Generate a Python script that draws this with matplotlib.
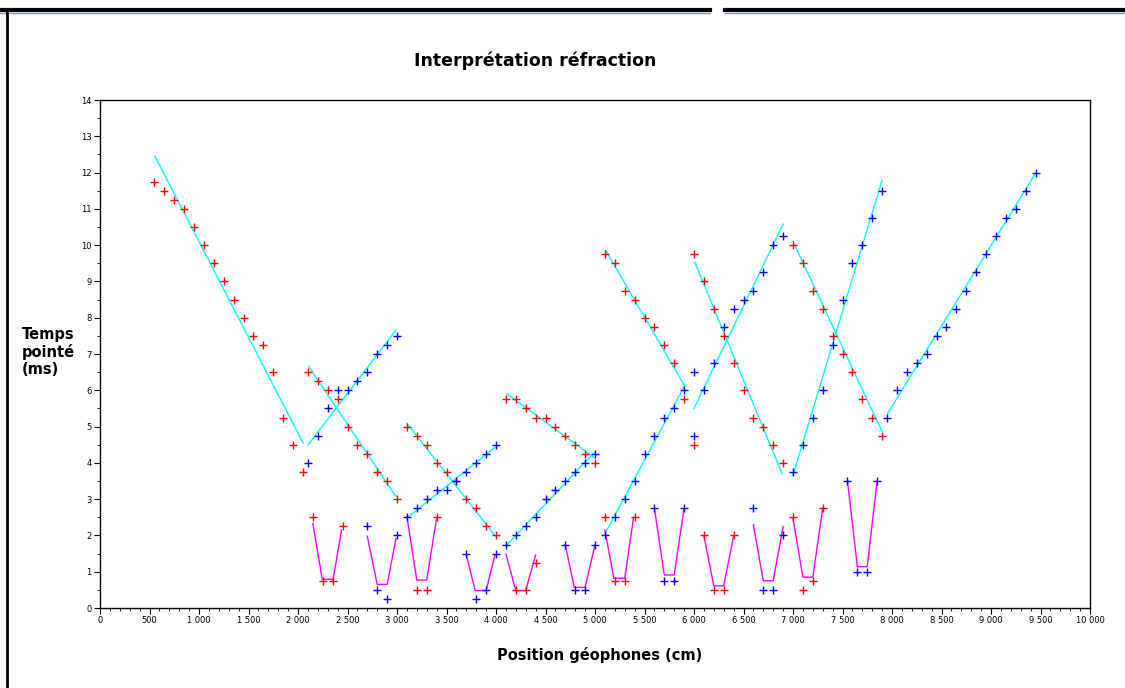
import matplotlib
matplotlib.use("Agg")
import matplotlib.pyplot as plt
from matplotlib.lines import Line2D
from matplotlib.ticker import MultipleLocator, FuncFormatter

# ---------------- data ----------------
red1_x = [550, 650, 750, 850, 950, 1050, 1150, 1250, 1350, 1450, 1550, 1650, 1750, 1850, 1950, 2050]
red1_y = [11.75, 11.5, 11.25, 11.0, 10.5, 10.0, 9.5, 9.0, 8.5, 8.0, 7.5, 7.25, 6.5, 5.25, 4.5, 3.75]

red2_x = [2100, 2200, 2300, 2400, 2500, 2600, 2700, 2800, 2900, 3000]
red2_y = [6.5, 6.25, 6.0, 5.75, 5.0, 4.5, 4.25, 3.75, 3.5, 3.0]
blue2_x = [2100, 2200, 2300, 2400, 2500, 2600, 2700, 2800, 2900, 3000]
blue2_y = [4.0, 4.75, 5.5, 6.0, 6.0, 6.25, 6.5, 7.0, 7.25, 7.5]

red3_x = [3100, 3200, 3300, 3400, 3500, 3600, 3700, 3800, 3900, 4000]
red3_y = [5.0, 4.75, 4.5, 4.0, 3.75, 3.5, 3.0, 2.75, 2.25, 2.0]
blue3_x = [3100, 3200, 3300, 3400, 3500, 3600, 3700, 3800, 3900, 4000]
blue3_y = [2.5, 2.75, 3.0, 3.25, 3.25, 3.5, 3.75, 4.0, 4.25, 4.5]

red4_x = [4100, 4200, 4300, 4400, 4500, 4600, 4700, 4800, 4900, 5000]
red4_y = [5.75, 5.75, 5.5, 5.25, 5.25, 5.0, 4.75, 4.5, 4.25, 4.0]
blue4_x = [4100, 4200, 4300, 4400, 4500, 4600, 4700, 4800, 4900, 5000]
blue4_y = [1.75, 2.0, 2.25, 2.5, 3.0, 3.25, 3.5, 3.75, 4.0, 4.25]

red5_x = [5100, 5200, 5300, 5400, 5500, 5600, 5700, 5800, 5900]
red5_y = [9.75, 9.5, 8.75, 8.5, 8.0, 7.75, 7.25, 6.75, 5.75]
blue5_x = [5100, 5200, 5300, 5400, 5500, 5600, 5700, 5800, 5900]
blue5_y = [2.0, 2.5, 3.0, 3.5, 4.25, 4.75, 5.25, 5.5, 6.0]

red6_x = [6000, 6100, 6200, 6300, 6400, 6500, 6600, 6700, 6800, 6900]
red6_y = [9.75, 9.0, 8.25, 7.5, 6.75, 6.0, 5.25, 5.0, 4.5, 4.0]
blue6_x = [6100, 6200, 6300, 6400, 6500, 6600, 6700, 6800, 6900]
blue6_y = [6.0, 6.75, 7.75, 8.25, 8.5, 8.75, 9.25, 10.0, 10.25]

red7_x = [7000, 7100, 7200, 7300, 7400, 7500, 7600, 7700, 7800, 7900]
red7_y = [10.0, 9.5, 8.75, 8.25, 7.5, 7.0, 6.5, 5.75, 5.25, 4.75]
blue7_x = [7000, 7100, 7200, 7300, 7400, 7500, 7600, 7700, 7800, 7900]
blue7_y = [3.75, 4.5, 5.25, 6.0, 7.25, 8.5, 9.5, 10.0, 10.75, 11.5]

blue8_x = [7950, 8050, 8150, 8250, 8350, 8450, 8550, 8650, 8750, 8850, 8950, 9050, 9150, 9250, 9350, 9450]
blue8_y = [5.25, 6.0, 6.5, 6.75, 7.0, 7.5, 7.75, 8.25, 8.75, 9.25, 9.75, 10.25, 10.75, 11.0, 11.5, 12.0]

red_extra_x = [6000]
red_extra_y = [4.5]
blue_extra_x = [6000, 6000]
blue_extra_y = [6.5, 4.75]

# near-surface (bottom) picks
red_v_x = [2150, 2250, 2350, 2450, 3200, 3300, 3400, 4200, 4300, 4400,
           5100, 5200, 5300, 5400, 6100, 6200, 6300, 6400, 7000, 7100, 7200, 7300]
red_v_y = [2.5, 0.75, 0.75, 2.25, 0.5, 0.5, 2.5, 0.5, 0.5, 1.25,
           2.5, 0.75, 0.75, 2.5, 2.0, 0.5, 0.5, 2.0, 2.5, 0.5, 0.75, 2.75]
blue_v_x = [2700, 2800, 2900, 3000, 3700, 3800, 3900, 4000, 4700, 4800, 4900, 5000,
            5600, 5700, 5800, 5900, 6600, 6700, 6800, 6900, 7550, 7650, 7750, 7850]
blue_v_y = [2.25, 0.5, 0.25, 2.0, 1.5, 0.25, 0.5, 1.5, 1.75, 0.5, 0.5, 1.75,
            2.75, 0.75, 0.75, 2.75, 2.75, 0.5, 0.5, 2.0, 3.5, 1.0, 1.0, 3.5]

# fitted refraction lines (cyan): start x, start t, end x, end t
fit_x0 = [555, 2100, 2110, 3100, 3100, 4110, 4110, 5110, 5110, 6010, 6000, 7000, 7000, 7955]
fit_t0 = [12.45, 4.49, 6.65, 5.09, 2.48, 5.90, 1.74, 9.85, 2.10, 9.52, 5.50, 10.10, 3.66, 5.36]
fit_x1 = [2053, 2990, 2990, 4000, 4000, 4990, 5000, 5905, 5905, 6890, 6900, 7900, 7900, 9450]
fit_t1 = [4.54, 7.66, 3.07, 1.96, 4.45, 4.15, 4.31, 6.12, 6.12, 3.70, 10.58, 4.86, 11.79, 11.98]

# near-surface V interpretations (magenta): 4 vertices each
v_xa = [2150, 2700, 3100, 3700, 4100, 4700, 5100, 5600, 6100, 6600, 7000, 7550]
v_ta = [2.33, 1.98, 2.52, 1.46, 1.49, 1.74, 2.15, 2.75, 1.98, 2.29, 2.47, 3.51]
v_xb = [2245, 2800, 3200, 3790, 4200, 4790, 5190, 5700, 6200, 6700, 7100, 7650]
v_xc = [2355, 2900, 3300, 3900, 4300, 4900, 5300, 5800, 6300, 6800, 7200, 7750]
v_tb = [0.79, 0.65, 0.77, 0.48, 0.48, 0.57, 0.82, 0.91, 0.61, 0.75, 0.85, 1.14]
v_xd = [2440, 2990, 3400, 3990, 4400, 5000, 5390, 5900, 6400, 6900, 7300, 7850]
v_td = [2.15, 1.92, 2.47, 1.46, 1.46, 1.74, 2.50, 2.75, 1.98, 2.24, 2.75, 3.51]

xticks = list(range(0, 10001, 500))
yticks = list(range(0, 15))

# ---------------- figure ----------------
fig = plt.figure(figsize=(11.25, 6.88), dpi=100)
ax = fig.add_axes([100 / 1125, 1 - 608 / 688, 990 / 1125, 508 / 688])

RED = "#ff0000"
BLUE = "#0000ff"
CYAN = "#00ffff"
MAG = "#ff00ff"

for xa, ta, xb, xc, tb, xd, td in zip(v_xa, v_ta, v_xb, v_xc, v_tb, v_xd, v_td):
    ax.plot([xa, xb, xc, xd], [ta, tb, tb, td], color=MAG, lw=1.0, zorder=2)

for x0, t0, x1, t1 in zip(fit_x0, fit_t0, fit_x1, fit_t1):
    ax.plot([x0, x1], [t0, t1], color=CYAN, lw=1.0, zorder=2)

mk = dict(marker="+", linestyle="none", markersize=5.5, markeredgewidth=1.0, zorder=3)
for xs, ys in [(red1_x, red1_y), (red2_x, red2_y), (red3_x, red3_y), (red4_x, red4_y),
               (red5_x, red5_y), (red6_x, red6_y), (red7_x, red7_y),
               (red_extra_x, red_extra_y), (red_v_x, red_v_y)]:
    ax.plot(xs, ys, color=RED, **mk)
for xs, ys in [(blue2_x, blue2_y), (blue3_x, blue3_y), (blue4_x, blue4_y),
               (blue5_x, blue5_y), (blue6_x, blue6_y), (blue7_x, blue7_y),
               (blue8_x, blue8_y), (blue_extra_x, blue_extra_y), (blue_v_x, blue_v_y)]:
    ax.plot(xs, ys, color=BLUE, **mk)

ax.set_xlim(0, 10000)
ax.set_ylim(0, 14)
ax.set_xticks(xticks)
ax.set_yticks(yticks)
ax.xaxis.set_minor_locator(MultipleLocator(100))
ax.yaxis.set_minor_locator(MultipleLocator(0.5))
ax.xaxis.set_major_formatter(FuncFormatter(lambda v, p: f"{int(v):,}".replace(",", " ")))
ax.tick_params(axis="both", which="major", length=4, width=0.8, labelsize=6, direction="out", pad=2)
ax.tick_params(axis="both", which="minor", length=2, width=0.6, direction="out")
for s in ax.spines.values():
    s.set_linewidth(1.0)
    s.set_color("black")

fig.text(535 / 1125, 1 - 61 / 688, "Interprétation réfraction", ha="center", va="center",
         fontsize=12.5, fontweight="bold")
fig.text(600 / 1125, 1 - 655 / 688, "Position géophones (cm)", ha="center", va="center",
         fontsize=10.5, fontweight="bold")
fig.text(22 / 1125, 1 - 352 / 688, "Temps\npointé\n(ms)", ha="left", va="center",
         fontsize=10.5, fontweight="bold", linespacing=1.2)

# window frame
fig.add_artist(Line2D([0, 710 / 1125], [1 - 10 / 688, 1 - 10 / 688], color="black", lw=3,
                      transform=fig.transFigure))
fig.add_artist(Line2D([725 / 1125, 1], [1 - 10 / 688, 1 - 10 / 688], color="black", lw=3,
                      transform=fig.transFigure))
fig.add_artist(Line2D([0, 710 / 1125], [1 - 13 / 688, 1 - 13 / 688], color="#7f93b0", lw=1,
                      transform=fig.transFigure))
fig.add_artist(Line2D([725 / 1125, 1], [1 - 13 / 688, 1 - 13 / 688], color="#7f93b0", lw=1,
                      transform=fig.transFigure))
fig.add_artist(Line2D([7 / 1125, 7 / 1125], [0, 1 - 10 / 688], color="black", lw=2,
                      transform=fig.transFigure))

fig.savefig("out.png", dpi=100)
